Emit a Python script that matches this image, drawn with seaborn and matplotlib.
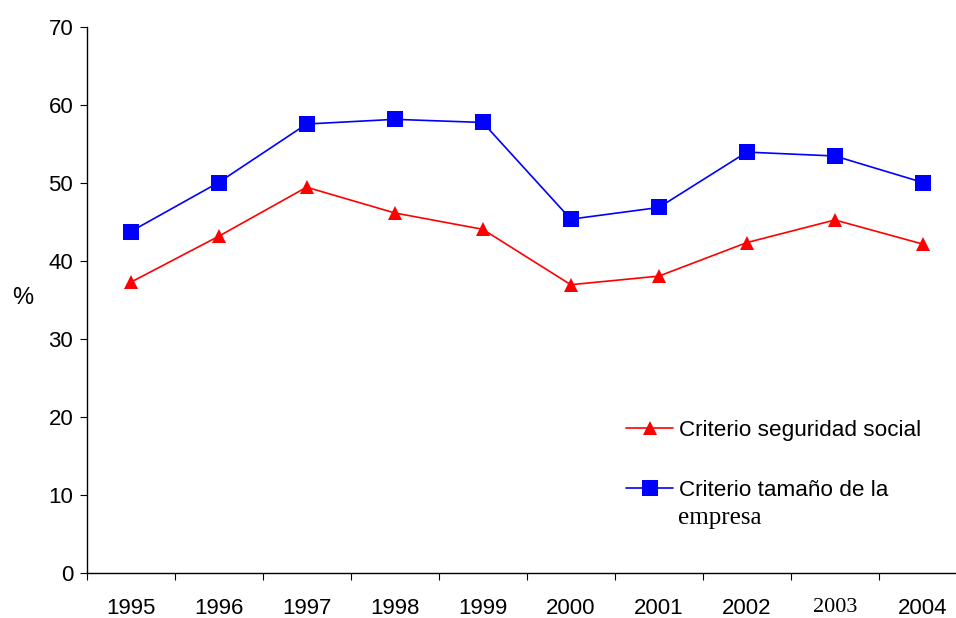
import numpy as np
import pandas as pd
import matplotlib
matplotlib.use("Agg")
import matplotlib.pyplot as plt
from matplotlib.lines import Line2D
import seaborn as sns

years = ["1995", "1996", "1997", "1998", "1999", "2000", "2001", "2002", "2003", "2004"]
seguridad_social = [37.3, 43.2, 49.5, 46.2, 44.1, 37.0, 38.1, 42.4, 45.3, 42.2]
tamano_empresa = [43.8, 50.1, 57.6, 58.2, 57.8, 45.4, 46.9, 54.0, 53.5, 50.1]
series_names = ["Criterio seguridad social", "Criterio tamaño de la empresa"]
y_ticks = [0, 10, 20, 30, 40, 50, 60, 70]

sns.set_theme(style="white")
plt.rcParams["font.family"] = ["Liberation Sans", "DejaVu Sans"]

pos = np.arange(len(years))
df = pd.DataFrame({
    "pos": np.concatenate([pos, pos]),
    "valor": seguridad_social + tamano_empresa,
    "serie": [series_names[0]] * len(years) + [series_names[1]] * len(years),
})

fig = plt.figure(figsize=(9.56, 6.18), dpi=100)
ax = fig.add_axes([86.5 / 956, 1 - 573.3 / 618, (967 - 86.5) / 956, (573.3 - 27.3) / 618])

palette = {series_names[0]: "#FF0000", series_names[1]: "#0000FF"}
markers = {series_names[0]: "^", series_names[1]: "s"}
sizes = {series_names[0]: 9.5, series_names[1]: 12}

for name in series_names:
    sub = df[df["serie"] == name]
    sns.lineplot(data=sub, x="pos", y="valor", color=palette[name], marker=markers[name],
                 markersize=sizes[name], markeredgewidth=0, linewidth=1.2,
                 ax=ax, legend=False)

ax.set_xlim(-0.5, len(years) - 0.5)
ax.set_ylim(0, 70)
ax.set_yticks(y_ticks)
ax.set_yticklabels([str(t) for t in y_ticks])

# Major ticks mark category boundaries; labels sit on the category centres
ax.set_xticks(np.arange(-0.5, len(years) + 0.5, 1.0))
ax.set_xticklabels([])
ax.set_xticks(pos, minor=True)
ax.set_xticklabels(years, minor=True)
ax.tick_params(axis="x", which="major", direction="out", length=5, width=0.8, color="black", bottom=True)
ax.tick_params(axis="x", which="minor", length=0, pad=18, labelsize=16, labelcolor="black")
ax.tick_params(axis="y", direction="out", length=5, width=0.8, color="black", left=True,
               labelsize=16, pad=4.5, labelcolor="black")
for lbl in ax.get_xticklabels(minor=True):
    if lbl.get_text() == "2003":
        lbl.set_fontfamily(["Liberation Serif", "DejaVu Serif"])

for side in ["top", "right"]:
    ax.spines[side].set_visible(False)
for side in ["left", "bottom"]:
    ax.spines[side].set_color("black")
    ax.spines[side].set_linewidth(1.0)
ax.set_xlabel("")
ax.set_ylabel("")

fig.text(23 / 956, 1 - 298 / 618, "%", fontsize=17, ha="center", va="center", color="black")

handles = [
    Line2D([], [], color="#FF0000", marker="^", markersize=9.5, markeredgewidth=0, linewidth=1.2),
    Line2D([], [], color="#0000FF", marker="s", markersize=12, markeredgewidth=0, linewidth=1.2),
]
leg = ax.legend(handles, ["Criterio seguridad social", "Criterio tamaño de la"],
                loc="upper left", bbox_to_anchor=(626 / 956, 1 - 420 / 618),
                bbox_transform=fig.transFigure, frameon=False, fontsize=16.2,
                handlelength=2.1, handletextpad=0.25, labelspacing=1.72,
                borderpad=0, borderaxespad=0)
for t in leg.get_texts():
    t.set_color("black")

fig.text(678 / 956, 1 - 518 / 618, "empresa", fontsize=18, ha="left", va="center",
         family=["Liberation Serif", "DejaVu Serif"], color="black")

fig.savefig("out.png", dpi=100)
